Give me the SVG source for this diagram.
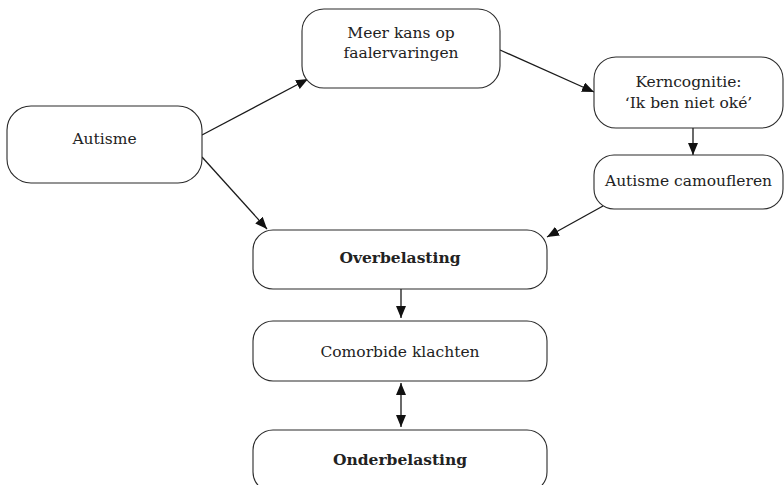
<svg xmlns="http://www.w3.org/2000/svg" width="784" height="485" viewBox="0 0 784 485">
<style>
.box{fill:#fff;stroke:#2a2a2a;stroke-width:1.1}
.t{font-family:"DejaVu Serif","Liberation Serif",serif;font-size:15.5px;fill:#222;text-anchor:middle}
.b{font-weight:bold}
.c{stroke:#1a1a1a;stroke-width:1.3;fill:none}
</style>
<defs>
<marker id="ah" viewBox="0 0 12 10" refX="12" refY="5" markerWidth="12" markerHeight="10" markerUnits="userSpaceOnUse" orient="auto-start-reverse">
<path d="M0,0 L12,5 L0,10 z" fill="#111"/>
</marker>
</defs>
<rect width="784" height="485" fill="#fff"/>
<g id="connectors">
<line class="c" x1="202" y1="135" x2="308" y2="79" marker-end="url(#ah)"/>
<line class="c" x1="202" y1="157" x2="267" y2="229" marker-end="url(#ah)"/>
<line class="c" x1="500" y1="50" x2="594" y2="92" marker-end="url(#ah)"/>
<line class="c" x1="693" y1="128" x2="693" y2="155" marker-end="url(#ah)"/>
<line class="c" x1="603" y1="206" x2="547" y2="237" marker-end="url(#ah)"/>
<line class="c" x1="401" y1="289" x2="401" y2="318" marker-end="url(#ah)"/>
<line class="c" x1="401" y1="383" x2="401" y2="427" marker-start="url(#ah)" marker-end="url(#ah)"/>
</g>
<g id="autisme">
<rect class="box" x="7" y="106" width="195" height="77" rx="24"/>
<text class="t" x="104.5" y="144">Autisme</text>
</g>
<g id="meer-kans">
<rect class="box" x="302" y="9" width="198" height="79" rx="22"/>
<text class="t" x="401" y="38">Meer kans op</text>
<text class="t" x="401" y="58">faalervaringen</text>
</g>
<g id="kerncognitie">
<rect class="box" x="594" y="57" width="189" height="71" rx="22"/>
<text class="t" x="688.5" y="87">Kerncognitie:</text>
<text class="t" x="688.5" y="108">‘Ik ben niet oké’</text>
</g>
<g id="camoufleren">
<rect class="box" x="594" y="155" width="189" height="54" rx="20"/>
<text class="t" x="688.5" y="186">Autisme camoufleren</text>
</g>
<g id="overbelasting">
<rect class="box" x="253" y="230" width="294" height="59" rx="20"/>
<text class="t b" x="400" y="263">Overbelasting</text>
</g>
<g id="comorbide">
<rect class="box" x="253" y="321" width="294" height="60" rx="20"/>
<text class="t" x="400" y="357">Comorbide klachten</text>
</g>
<g id="onderbelasting">
<rect class="box" x="253" y="430" width="294" height="62" rx="20"/>
<text class="t b" x="400" y="465">Onderbelasting</text>
</g>
</svg>
